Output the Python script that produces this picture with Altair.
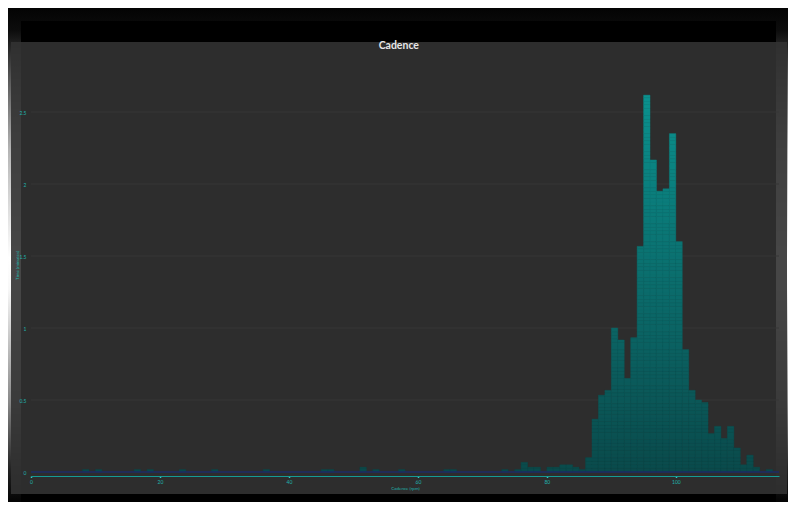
import math
import pandas as pd
import altair as alt

# ---------------- data ----------------
cadence_bins = [8, 10, 16, 18, 23, 28, 36, 45, 46, 51, 53, 57, 64, 65, 73, 75, 76, 77, 78,
                80, 81, 82, 83, 84, 85, 86, 87, 88, 89, 90, 91, 92, 93, 94, 95, 96, 97, 98,
                99, 100, 101, 102, 103, 104, 105, 106, 107, 108, 109, 110, 111, 112, 114]
time_minutes = [0.017, 0.017, 0.017, 0.017, 0.017, 0.017, 0.017, 0.017, 0.017, 0.033, 0.017,
                0.017, 0.017, 0.017, 0.017, 0.017, 0.067, 0.033, 0.033,
                0.033, 0.033, 0.05, 0.05, 0.033, 0.017, 0.1, 0.367, 0.533, 0.567, 1.0, 0.917,
                0.65, 0.933, 1.567, 2.617, 2.167, 1.95, 1.967,
                2.35, 1.6, 0.85, 0.567, 0.5, 0.483, 0.267, 0.317, 0.233, 0.317, 0.167, 0.05,
                0.117, 0.033, 0.017]
x_ticks = [0, 20, 40, 60, 80, 100]
y_ticks = [0, 0.5, 1, 1.5, 2, 2.5]
chart_title = "Cadence"
x_title = "Cadence (rpm)"
y_title = "Time (minutes)"

# ---------------- tables ----------------
# vertical strips so the gradient runs over the whole plot height
step = 0.025
rows = []
for b, h in zip(cadence_bins, time_minutes):
    n = max(1, math.ceil(h / step - 1e-9))
    for k in range(n):
        y0 = k * step
        y1 = min(h, (k + 1) * step)
        rows.append({"b": b, "b2": b + 1, "y0": y0, "y1": y1, "c": (y0 + y1) / 2})
strip_df = pd.DataFrame(rows)

one = pd.DataFrame({"k": [0]})

# ---------------- style ----------------
W, H = 748, 414
TEAL = "#1fb3ad"
FONT = "Lato"
x_scale = alt.Scale(domain=[0, 116], nice=False, zero=False)
y_scale = alt.Scale(domain=[0, 2.875], nice=False)
grad_scale = alt.Scale(domain=[0, 2.62], range=["#0a4a4b", "#0b918e"])

x_axis = alt.Axis(
    values=x_ticks, title=x_title, offset=4, grid=False, labelFlush=False,
    domainColor="#169a96", domainWidth=1,
    tickColor="#35c9c2", tickSize=1.5, tickWidth=1.5,
    labelFont=FONT, labelFontSize=5, labelColor=TEAL, labelPadding=1.5,
    titleFont=FONT, titleFontSize=4.5, titleColor=TEAL, titleFontWeight="normal",
    titleY=12.3, titleBaseline="middle", zindex=1,
)
y_axis = alt.Axis(
    values=y_ticks, format="~g", title=y_title, grid=False, domain=False, ticks=False,
    labelFont=FONT, labelFontSize=5, labelColor=TEAL, labelPadding=5,
    titleFont=FONT, titleFontSize=4.5, titleColor=TEAL, titleFontWeight="normal",
    titleX=-14, titleY=H / 2, titleBaseline="middle", titleAlign="center", zindex=1,
)


def deco(x, x2, y, y2, **mark):
    return alt.Chart(one).mark_rect(**mark).encode(
        x=alt.value(x), x2=alt.value(x2), y=alt.value(y), y2=alt.value(y2)
    )


frame_grad = alt.Gradient(
    gradient="linear",
    x1=0, x2=0, y1=0, y2=1,
    stops=[
        alt.GradientStop(offset=0.0, color="#000000"),
        alt.GradientStop(offset=0.06, color="#0d0d0d"),
        alt.GradientStop(offset=0.155, color="#5a5a5a"),
        alt.GradientStop(offset=0.29, color="#b4b4b4"),
        alt.GradientStop(offset=0.5, color="#ffffff"),
        alt.GradientStop(offset=0.56, color="#f8f8f8"),
        alt.GradientStop(offset=0.78, color="#888888"),
        alt.GradientStop(offset=0.91, color="#222222"),
        alt.GradientStop(offset=0.97, color="#050505"),
        alt.GradientStop(offset=1.0, color="#000000"),
    ],
)

frame = deco(-31, 765, -58, 458, color=frame_grad, cornerRadius=16)
inner = deco(-10, 745, -37, 444, color="#000000")
panel = deco(-20, 756, -16, 436, color="#323232", opacity=0.9)

grid = alt.Chart(pd.DataFrame({"t": y_ticks})).mark_rule(color="#373737", strokeWidth=1).encode(
    y=alt.Y("t:Q", scale=y_scale, axis=y_axis)
)

strips = alt.Chart(strip_df).mark_rect(strokeWidth=0.4).encode(
    x=alt.X("b:Q", scale=x_scale, axis=x_axis),
    x2="b2:Q",
    y=alt.Y("y0:Q", scale=y_scale, axis=y_axis),
    y2="y1:Q",
    color=alt.Color("c:Q", scale=grad_scale, legend=None),
    stroke=alt.Stroke("c:Q", scale=grad_scale, legend=None),
)

zero_line = alt.Chart(pd.DataFrame({"z": [0]})).mark_rule(color="#1d2a64", strokeWidth=1.5).encode(
    y=alt.Y("z:Q", scale=y_scale, axis=y_axis)
)

title_text = alt.Chart(one).mark_text(
    text=chart_title, font=FONT, fontSize=10.5, fontWeight="bold", color="#e6e6e6",
    align="center", baseline="alphabetic",
).encode(x=alt.value(367.8), y=alt.value(-8.7))

chart = alt.layer(
    frame, inner, panel, grid, strips, zero_line, title_text
).properties(
    width=W,
    height=H,
    autosize=alt.AutoSizeParams(type="none"),
    padding={"left": 23, "top": 50, "right": 9, "bottom": 30},
    background="white",
).configure_view(stroke=None)

chart.save("out.html", embed_options={"renderer": "svg", "actions": False})
